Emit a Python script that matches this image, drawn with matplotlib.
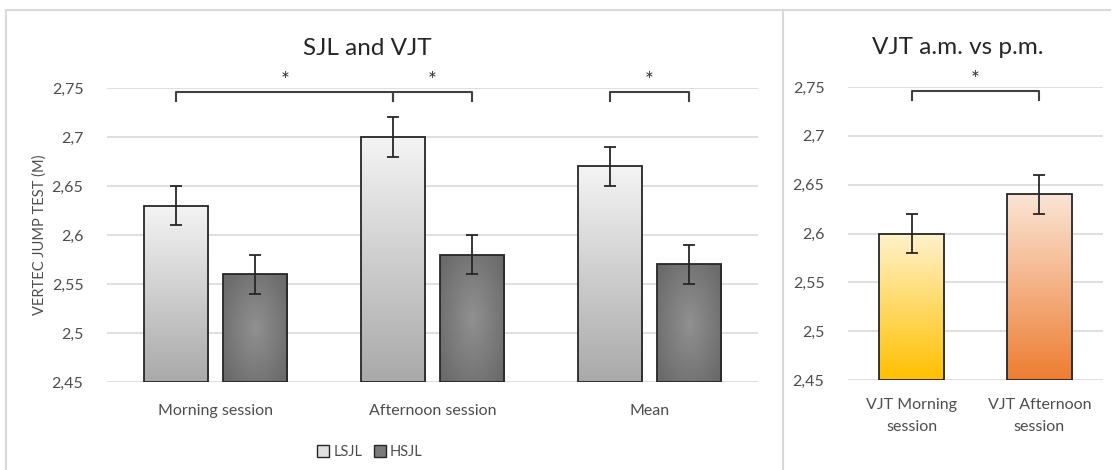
import numpy as np
import matplotlib
matplotlib.use("Agg")
import matplotlib.pyplot as plt
from matplotlib.patches import Patch
from matplotlib.colors import LinearSegmentedColormap
from matplotlib.lines import Line2D

plt.rcParams['font.family'] = ['Lato', 'DejaVu Sans']

# data
sessions = ["Morning session", "Afternoon session", "Mean"]
lsjl = [2.63, 2.70, 2.67]
lsjl_err = [0.02, 0.02, 0.02]
hsjl = [2.56, 2.58, 2.57]
hsjl_err = [0.02, 0.02, 0.02]

vjt_labels = ["VJT Morning\nsession", "VJT Afternoon\nsession"]
vjt = [2.60, 2.64]
vjt_err = [0.02, 0.02]

yticks = [2.45, 2.5, 2.55, 2.6, 2.65, 2.7, 2.75]
ytick_labels = ["2,45", "2,5", "2,55", "2,6", "2,65", "2,7", "2,75"]

tick_col = "#4d4d4d"
grid_col = "#d9d9d9"


def linear_fill(ax, patch, top, bottom):
    cmap = LinearSegmentedColormap.from_list("g", [bottom, top])
    x0, y0 = patch.get_x(), patch.get_y()
    w, h = patch.get_width(), patch.get_height()
    grad = np.linspace(0, 1, 256).reshape(-1, 1)
    im = ax.imshow(grad, extent=[x0, x0 + w, y0, y0 + h], origin="lower",
                   cmap=cmap, aspect="auto", zorder=2)
    im.set_clip_path(patch)


def radial_fill(ax, patch, inner, outer):
    cmap = LinearSegmentedColormap.from_list("r", [inner, outer])
    x0, y0 = patch.get_x(), patch.get_y()
    w, h = patch.get_width(), patch.get_height()
    xx, yy = np.meshgrid(np.linspace(-1, 1, 100), np.linspace(-1, 1, 200))
    r = np.clip(np.sqrt(xx ** 2 + (yy * 0.9) ** 2) / 1.2, 0, 1)
    im = ax.imshow(r, extent=[x0, x0 + w, y0, y0 + h], origin="lower",
                   cmap=cmap, aspect="auto", zorder=2)
    im.set_clip_path(patch)


def style_axes(ax):
    ax.set_ylim(2.45, 2.75)
    ax.set_yticks(yticks)
    ax.set_yticklabels(ytick_labels)
    ax.yaxis.grid(True, color=grid_col, linewidth=1.2)
    ax.set_axisbelow(True)
    for s in ax.spines.values():
        s.set_visible(False)
    ax.tick_params(length=0, colors=tick_col, labelsize=11.5, pad=16)
    ax.tick_params(axis="y", pad=17)


def bracket(ax, x1, x2, y=2.746, drop=0.009):
    ax.plot([x1, x1, x2, x2], [y - drop, y, y, y - drop], color="#404040",
            lw=1.5, clip_on=False, zorder=5)
    ax.text((x1 + x2) / 2, y + 0.001, "*", ha="center", va="bottom",
            fontsize=15, color="#333333")


fig = plt.figure(figsize=(11.13, 4.70), dpi=100)

# panel frames
fig.add_artist(Line2D([6 / 1113, 1110 / 1113], [1 - 10 / 470] * 2, color="#d9d9d9", lw=1.5))
fig.add_artist(Line2D([6 / 1113] * 2, [0, 1 - 10 / 470], color="#d9d9d9", lw=1.5))
fig.add_artist(Line2D([783 / 1113] * 2, [0, 1 - 10 / 470], color="#d9d9d9", lw=1.5))

# left panel
ax1 = fig.add_axes([107 / 1113, 1 - 382 / 470, 651 / 1113, 294 / 470])
x = np.arange(len(sessions))
off = 0.18
bw = 0.295
b1 = ax1.bar(x - off, lsjl, bw, color="none", edgecolor="#262626",
             linewidth=1.3, zorder=3)
b2 = ax1.bar(x + off, hsjl, bw, color="none", edgecolor="#262626",
             linewidth=1.3, zorder=3)
for p in b1:
    p.set_y(2.45); p.set_height(p.get_height() - 2.45)
    linear_fill(ax1, p, "#f4f4f4", "#a9a9a9")
for p in b2:
    p.set_y(2.45); p.set_height(p.get_height() - 2.45)
    radial_fill(ax1, p, "#909090", "#6b6b6b")
ax1.errorbar(x - off, lsjl, yerr=lsjl_err, fmt="none", ecolor="#262626",
             elinewidth=1.3, capsize=4, capthick=1.3, zorder=4)
ax1.errorbar(x + off, hsjl, yerr=hsjl_err, fmt="none", ecolor="#262626",
             elinewidth=1.3, capsize=4, capthick=1.3, zorder=4)
ax1.set_xlim(-0.5, len(sessions) - 0.5)
ax1.set_xticks(x)
ax1.set_xticklabels(sessions)
style_axes(ax1)
ax1.set_title("SJL and VJT", fontsize=17.5, color="#262626", pad=24, x=0.40)
bracket(ax1, x[0] - off, x[1] - off)
bracket(ax1, x[1] - off, x[1] + off)
bracket(ax1, x[2] - off, x[2] + off)

fig.text(40 / 1113, 1 - 235 / 470, "VERTEC JUMP TEST (M)", rotation=90,
         ha="center", va="center", fontsize=10.5, color=tick_col)

handles = [Patch(facecolor="#e0e0e0", edgecolor="#262626", label="LSJL"),
           Patch(facecolor="#7a7a7a", edgecolor="#262626", label="HSJL")]
fig.legend(handles=handles, loc="center", bbox_to_anchor=(370 / 1113, 1 - 452 / 470),
           ncol=2, frameon=False, fontsize=10.5, handlelength=0.8, handleheight=0.8,
           handletextpad=0.3, columnspacing=0.8, labelcolor=tick_col)

# right panel
ax2 = fig.add_axes([848 / 1113, 1 - 380 / 470, 255 / 1113, 293 / 470])
x2 = np.arange(len(vjt))
b3 = ax2.bar(x2, vjt, 0.51, color="none", edgecolor="#262626", linewidth=1.3, zorder=3)
fills = [("#fff2cc", "#ffc000"), ("#fbe5d6", "#ed7d31")]
for p, (top, bot) in zip(b3, fills):
    p.set_y(2.45); p.set_height(p.get_height() - 2.45)
    linear_fill(ax2, p, top, bot)
ax2.errorbar(x2, vjt, yerr=vjt_err, fmt="none", ecolor="#262626",
             elinewidth=1.3, capsize=4, capthick=1.3, zorder=4)
ax2.set_xlim(-0.5, len(vjt) - 0.5)
ax2.set_xticks(x2)
ax2.set_xticklabels(vjt_labels, multialignment="center", linespacing=1.75)
style_axes(ax2)
ax2.tick_params(axis="x", pad=13)
ax2.set_title("VJT a.m. vs p.m.", fontsize=17.5, color="#262626", pad=24, x=0.43)
bracket(ax2, x2[0], x2[1])

fig.savefig("out.png", dpi=100)
